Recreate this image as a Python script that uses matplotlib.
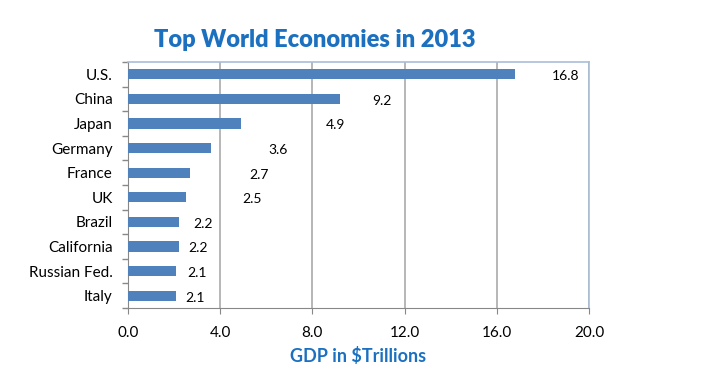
import matplotlib
matplotlib.use("Agg")
import matplotlib.pyplot as plt
import numpy as np

# ── data ─────────────────────────────────────────────────────────────
countries = ["U.S.", "China", "Japan", "Germany", "France", "UK",
             "Brazil", "California", "Russian Fed.", "Italy"]
gdp = [16.8, 9.2, 4.9, 3.6, 2.7, 2.5, 2.2, 2.2, 2.1, 2.1]
x_ticks = [0.0, 4.0, 8.0, 12.0, 16.0, 20.0]

# label offsets past bar end (in data units, as laid out in the original)
label_gap = [2.2, 1.8, 4.1, 2.9, 3.0, 2.9, 1.05, 0.85, 0.9, 0.8]

BAR = "#4f81bd"
TITLE_BLUE = "#1b70c0"
plt.rcParams["font.family"] = ["Lato", "DejaVu Sans"]

fig = plt.figure(figsize=(7.2, 3.78), dpi=100)
ax = fig.add_axes([128 / 720, 1 - 308 / 378, (589 - 128) / 720, (308 - 62) / 378])

y = np.arange(len(countries))
ax.barh(y, gdp, height=0.42, color=BAR, zorder=3)

for yi, v, g in zip(y, gdp, label_gap):
    ax.text(v + g, yi + 0.08, f"{v:.1f}", ha="center", va="center",
            fontsize=10, color="black", zorder=4)

ax.set_ylim(len(countries) - 0.5, -0.5)
ax.set_xlim(0, 20)
ax.set_xticks(x_ticks)
ax.set_xticklabels([f"{t:.1f}" for t in x_ticks], fontsize=11)
ax.set_yticks(y)
ax.set_yticklabels(countries, fontsize=11)
ax.set_yticks(np.arange(len(countries) + 1) - 0.5, minor=True)
ax.tick_params(axis="y", which="major", length=0, pad=11)
ax.tick_params(axis="y", which="minor", length=4, color="#888888", width=1)
ax.tick_params(axis="x", length=4, color="#888888", pad=9)

ax.grid(axis="x", color="#aaaaaa", lw=1.2, zorder=0)
for s in ["left", "bottom"]:
    ax.spines[s].set_color("#888888")
for s in ["top", "right"]:
    ax.spines[s].set_color("#a9bfd8")
    ax.spines[s].set_linewidth(1.2)

fig.text(315 / 720, 1 - 40 / 378, "Top World Economies in 2013",
         ha="center", va="center", fontsize=17, fontweight="heavy",
         color=TITLE_BLUE)
fig.text(358 / 720, 1 - 356 / 378, "GDP in $Trillions",
         ha="center", va="center", fontsize=13, fontweight="bold",
         color=TITLE_BLUE)

fig.savefig("out.png", dpi=100)
